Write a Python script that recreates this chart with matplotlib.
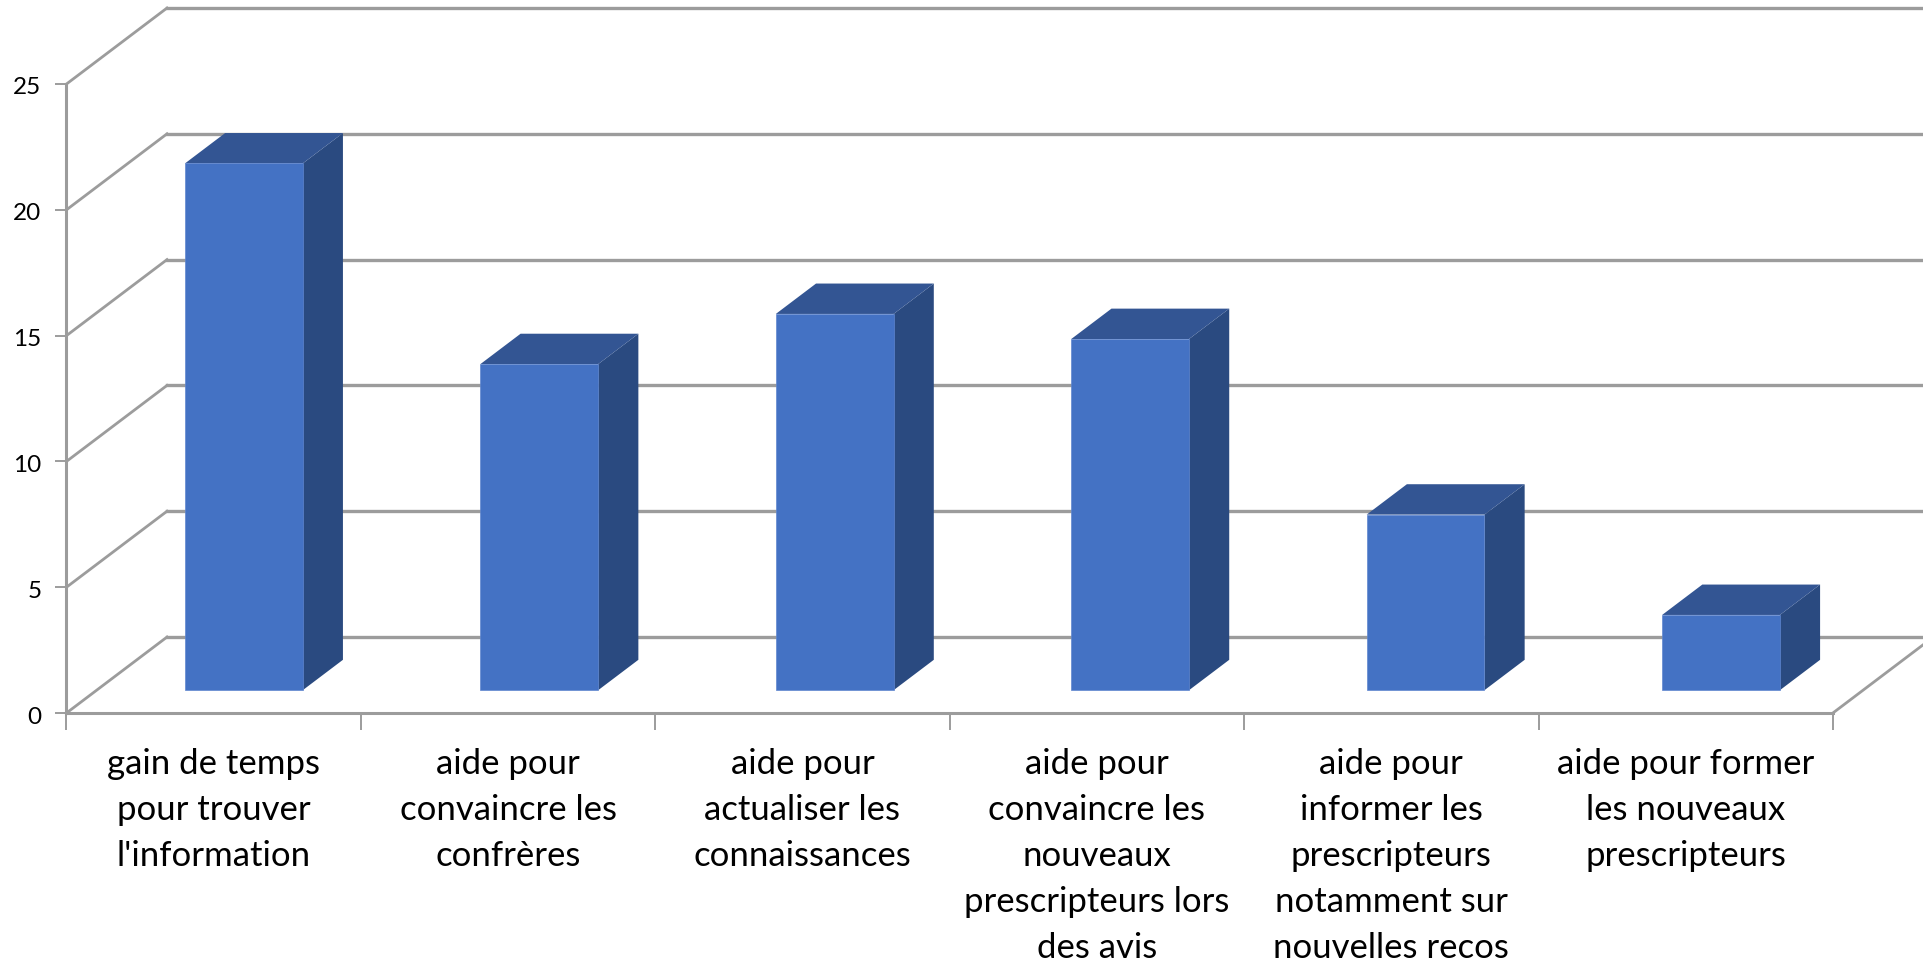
import matplotlib
matplotlib.use("Agg")
import matplotlib.pyplot as plt
from matplotlib.patches import Polygon
from matplotlib.transforms import ScaledTranslation

plt.rcParams["font.family"] = ["Lato", "DejaVu Sans"]

categories = [
    "gain de temps\npour trouver\nl'information",
    "aide pour\nconvaincre les\nconfrères",
    "aide pour\nactualiser les\nconnaissances",
    "aide pour\nconvaincre les\nnouveaux\nprescripteurs lors\ndes avis",
    "aide pour\ninformer les\nprescripteurs\nnotamment sur\nnouvelles recos",
    "aide pour former\nles nouveaux\nprescripteurs",
]
values = [21, 13, 15, 14, 7, 3]
y_ticks = [0, 5, 10, 15, 20, 25]

GRID = "#9c9c9c"
FRONT = "#4472c4"
TOP = "#335593"
SIDE = "#2a4a80"

# fake 3D depth, in data units
DEPTH_X = 0.3414
DEPTH_Y = 3.02
BAR_WIDTH = 0.4
# bars sit a bit behind the front plane, so their spacing differs slightly from the ticks
BAR_STEP = 1.0035

fig = plt.figure(figsize=(19.23, 9.61), dpi=100)
ax = fig.add_axes([0, 0, 1, 1])
ax.set_xlim(-66.5 / 294.4, (1923 - 66.5) / 294.4)
ax.set_ylim(-(961 - 713) / 25.16, 713 / 25.16)
ax.patch.set_visible(False)

# axes on the front plane
for side in ["top", "right"]:
    ax.spines[side].set_visible(False)
ax.spines["left"].set_position(("data", 0))
ax.spines["bottom"].set_position(("data", 0))
ax.spines["left"].set_bounds(0, 25)
ax.spines["bottom"].set_bounds(0, len(categories))
for side in ["left", "bottom"]:
    ax.spines[side].set_color(GRID)
    ax.spines[side].set_linewidth(2.2)

ax.set_yticks(y_ticks)
ax.set_xticks(range(len(categories) + 1))
ax.set_xticklabels([])
ax.tick_params(axis="y", length=8, width=1.4, color=GRID, labelsize=17.5, pad=10)
ax.tick_params(axis="x", length=12, width=1.4, color=GRID)

# nudge the y labels down a little
shift = ScaledTranslation(0, -2 / 100, fig.dpi_scale_trans)
for lab in ax.get_yticklabels():
    lab.set_transform(lab.get_transform() + shift)

# side wall and back wall grid
x_end = len(categories)
for y in y_ticks:
    ax.plot([0, DEPTH_X], [y, y + DEPTH_Y], color=GRID, lw=2, zorder=1)
    ax.plot([DEPTH_X, x_end + 1], [y + DEPTH_Y, y + DEPTH_Y], color=GRID, lw=2.4, zorder=1)
ax.plot([x_end, x_end + DEPTH_X], [0, DEPTH_Y], color=GRID, lw=2, zorder=1)

# bars: front, top and side faces
for i, v in enumerate(values):
    x0 = i * BAR_STEP + 0.5 - BAR_WIDTH / 2 + 0.3 * DEPTH_X
    x1 = x0 + BAR_WIDTH
    y0 = 0.3 * DEPTH_Y
    y1 = y0 + v * 0.997
    dx = 0.4 * DEPTH_X
    dy = 0.4 * DEPTH_Y
    ax.add_patch(Polygon([(x1, y0), (x1 + dx, y0 + dy), (x1 + dx, y1 + dy), (x1, y1)],
                         facecolor=SIDE, edgecolor="none", zorder=3))
    ax.add_patch(Polygon([(x0, y1), (x0 + dx, y1 + dy), (x1 + dx, y1 + dy), (x1, y1)],
                         facecolor=TOP, edgecolor="none", zorder=3))
    ax.add_patch(Polygon([(x0, y0), (x1, y0), (x1, y1), (x0, y1)],
                         facecolor=FRONT, edgecolor="#5f86cf", lw=0.5, zorder=4))

# category labels
for i, label in enumerate(categories):
    ax.text(i + 0.5, -1.4, label, ha="center", va="top", fontsize=25,
            linespacing=1.54, color="black")

fig.savefig("out.png", dpi=100)
